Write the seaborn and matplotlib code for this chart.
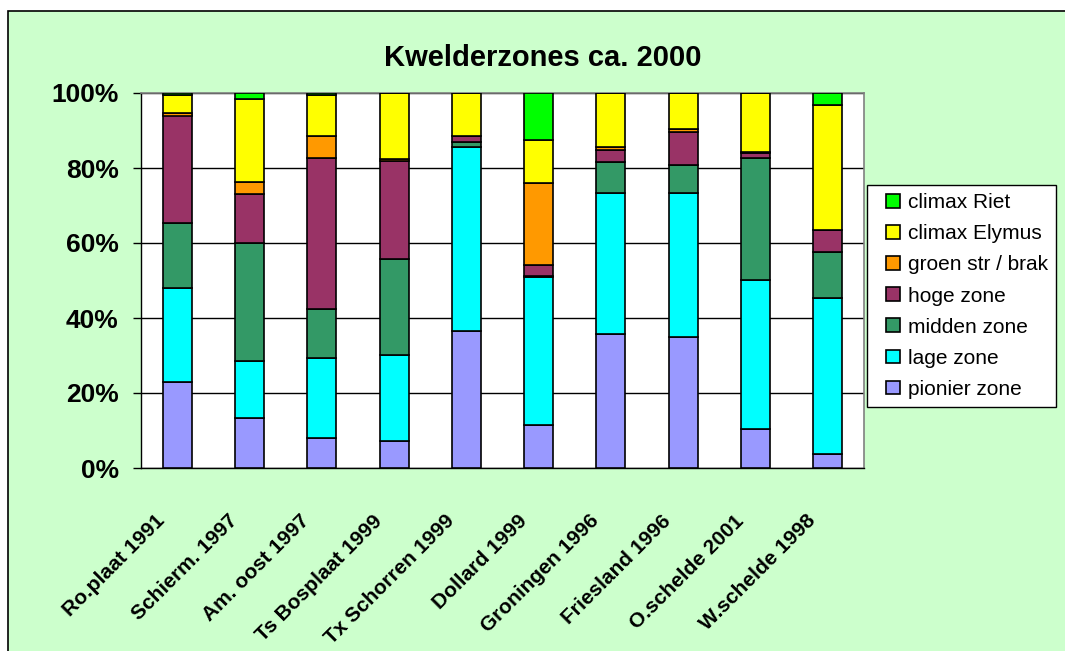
import numpy as np
import matplotlib.pyplot as plt
import matplotlib.patches as mpatches
import matplotlib.transforms as mtransforms
from matplotlib.legend_handler import HandlerPatch
from matplotlib.ticker import FixedLocator
import seaborn as sns

sns.set_style("white")
plt.rcParams["font.family"] = ["Liberation Sans", "DejaVu Sans"]
plt.rcParams["text.color"] = "black"
plt.rcParams["xtick.color"] = "black"
plt.rcParams["ytick.color"] = "black"

sites = ["Ro.plaat 1991", "Schierm. 1997", "Am. oost 1997", "Ts Bosplaat 1999",
         "Tx Schorren 1999", "Dollard 1999", "Groningen 1996", "Friesland 1996",
         "O.schelde 2001", "W.schelde 1998"]

# percentages, bottom to top
pionier = [22.9, 13.3, 8.0, 7.3, 36.5, 11.4, 35.8, 35.0, 10.3, 3.65]
lage = [25.1, 15.3, 21.4, 22.95, 49.1, 39.6, 37.6, 38.4, 39.8, 41.75]
midden = [17.3, 31.4, 12.9, 25.45, 1.4, 0.3, 8.1, 7.4, 32.5, 12.2]
hoge = [28.7, 13.0, 40.35, 26.15, 1.5, 2.8, 3.3, 8.9, 1.4, 5.8]
groen = [0.75, 3.3, 5.85, 0.5, 0.0, 21.8, 0.7, 0.7, 0.2, 0.0]
elymus = [4.85, 22.2, 11.1, 17.65, 11.5, 11.6, 14.5, 9.6, 15.8, 33.3]
riet = [0.4, 1.5, 0.4, 0.0, 0.0, 12.5, 0.0, 0.0, 0.0, 3.3]

series = [
    ("pionier zone", pionier, "#9999FF"),
    ("lage zone", lage, "#00FFFF"),
    ("midden zone", midden, "#339966"),
    ("hoge zone", hoge, "#993366"),
    ("groen str / brak", groen, "#FF9900"),
    ("climax Elymus", elymus, "#FFFF00"),
    ("climax Riet", riet, "#00FF00"),
]

fig = plt.figure(figsize=(10.65, 6.51), dpi=100, facecolor="white")
fig.patches.append(mpatches.Rectangle((8 / 1065, -0.1), 1.2, 1.1 - 11 / 651,
                                      transform=fig.transFigure, facecolor="#CCFFCC",
                                      edgecolor="black", linewidth=1.2, zorder=-10))
ax = fig.add_axes([141 / 1065, 1 - 468 / 651, (864 - 141) / 1065, (468 - 93) / 651])
ax.set_facecolor("white")

bottom = np.zeros(len(sites))
for name, vals, col in series:
    sns.barplot(x=sites, y=vals, bottom=bottom, color=col, saturation=1, width=0.4,
                edgecolor="black", linewidth=1.2, ax=ax, zorder=3)
    bottom = bottom + np.array(vals)

ax.set_ylim(0, 100)
ax.set_xlim(-0.5, len(sites) - 0.5)
ax.set_yticks(range(0, 101, 20))
ax.set_yticklabels([f"{v}%" for v in range(0, 101, 20)], fontsize=19, fontweight="bold")
ax.yaxis.grid(True, color="black", linewidth=1.0, zorder=0)
ax.set_axisbelow(True)

ax.tick_params(axis="x", length=0, pad=36)
ax.xaxis.set_minor_locator(FixedLocator(np.arange(-0.5, len(sites), 1.0)))
ax.tick_params(axis="x", which="minor", length=6, width=1, color="black", direction="out")
ax.tick_params(axis="y", length=6, width=1, color="black", direction="out", left=True, pad=10)
ax.set_xlabel("")
ax.set_ylabel("")

ax.set_xticks(range(len(sites)))
ax.set_xticklabels(sites, rotation=45, ha="right", va="center", rotation_mode="anchor",
                   fontsize=15, fontweight="bold")
shift = mtransforms.ScaledTranslation(-15 / 100, 0, fig.dpi_scale_trans)
for lbl in ax.get_xticklabels():
    lbl.set_transform(lbl.get_transform() + shift)

for s in ["left", "bottom"]:
    ax.spines[s].set_color("black")
    ax.spines[s].set_linewidth(1.0)
for s in ["top", "right"]:
    ax.spines[s].set_color("#808080")
    ax.spines[s].set_linewidth(1.2)


def square(legend, orig_handle, xdescent, ydescent, width, height, fontsize):
    size = 10
    return mpatches.Rectangle((-xdescent + width - size, -ydescent + (height - size) / 2),
                              size, size)


handles = [mpatches.Patch(facecolor=col, edgecolor="black", linewidth=1.2)
           for _, _, col in series][::-1]
labels = [name for name, _, _ in series][::-1]
leg = fig.legend(handles, labels, loc="upper left",
                 bbox_to_anchor=(867 / 1065, 1 - 185 / 651), fontsize=15,
                 frameon=True, fancybox=False, edgecolor="black", facecolor="white",
                 framealpha=1, handlelength=1.2, handleheight=0.7, handletextpad=0.35,
                 labelspacing=0.58, borderpad=0.4, borderaxespad=0,
                 handler_map={mpatches.Patch: HandlerPatch(patch_func=square)})
leg.get_frame().set_linewidth(1.0)

fig.text(543 / 1065, 1 - 58 / 651, "Kwelderzones ca. 2000", ha="center", va="center",
         fontsize=21, fontweight="bold")

fig.savefig("out.png", dpi=100, facecolor=fig.get_facecolor())
